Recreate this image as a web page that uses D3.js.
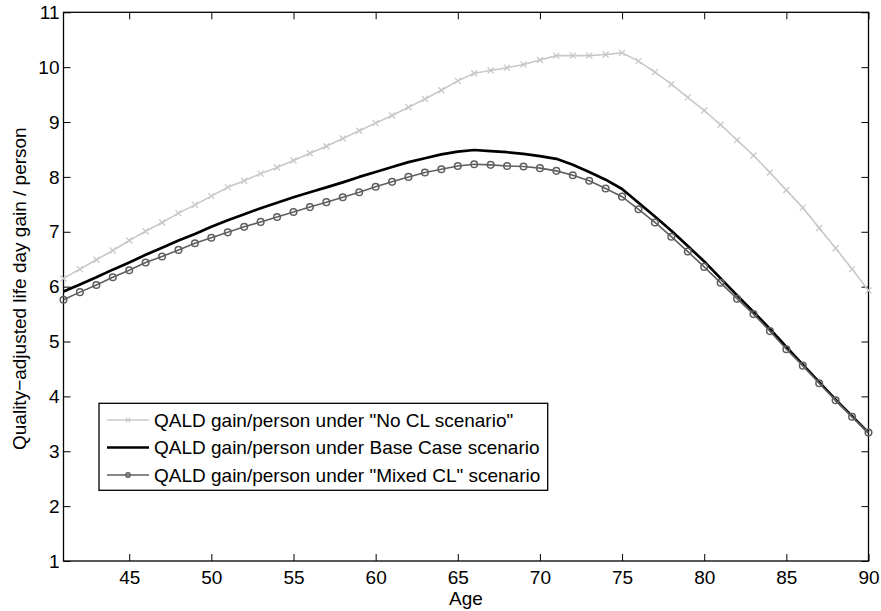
<!DOCTYPE html>
<html>
<head>
<meta charset="utf-8">
<script src="https://cdn.jsdelivr.net/npm/d3@7"></script>
<style>
  html, body { margin: 0; padding: 0; background: #fff; }
  svg { display: block; font-family: "Liberation Sans", Arial, Helvetica, sans-serif; }
</style>
</head>
<body>
<svg id="chart" width="881" height="611"></svg>
<script>
const ages = d3.range(41, 91);
const noCL = [6.15, 6.32, 6.49, 6.66, 6.84, 7.01, 7.17, 7.34, 7.49, 7.65,
  7.81, 7.93, 8.06, 8.17, 8.30, 8.43, 8.56, 8.70, 8.84, 8.98,
  9.12, 9.27, 9.42, 9.58, 9.75, 9.89, 9.94, 9.99, 10.05, 10.13,
  10.21, 10.21, 10.21, 10.23, 10.26, 10.11, 9.91, 9.69, 9.45, 9.21,
  8.95, 8.67, 8.39, 8.08, 7.76, 7.44, 7.07, 6.70, 6.32, 5.93];
const baseCase = [5.91, 6.04, 6.17, 6.31, 6.44, 6.58, 6.71, 6.84, 6.96, 7.09,
  7.21, 7.32, 7.43, 7.53, 7.63, 7.72, 7.81, 7.90, 8.00, 8.09,
  8.18, 8.27, 8.34, 8.41, 8.46, 8.49, 8.47, 8.45, 8.42, 8.38,
  8.33, 8.22, 8.09, 7.95, 7.78, 7.53, 7.28, 7.02, 6.74, 6.46,
  6.15, 5.84, 5.54, 5.23, 4.90, 4.58, 4.26, 3.94, 3.64, 3.34];
const mixedCL = [5.76, 5.90, 6.03, 6.17, 6.30, 6.44, 6.55, 6.67, 6.79, 6.89,
  6.99, 7.09, 7.18, 7.27, 7.36, 7.45, 7.54, 7.63, 7.72, 7.82,
  7.91, 8.00, 8.08, 8.14, 8.20, 8.23, 8.22, 8.20, 8.19, 8.16,
  8.11, 8.03, 7.93, 7.79, 7.64, 7.41, 7.17, 6.91, 6.64, 6.36,
  6.07, 5.78, 5.50, 5.19, 4.86, 4.56, 4.24, 3.93, 3.63, 3.34];
const xTicks = [45, 50, 55, 60, 65, 70, 75, 80, 85, 90];
const yTicks = [1, 2, 3, 4, 5, 6, 7, 8, 9, 10, 11];
const seriesNames = [
  'QALD gain/person under "No CL scenario"',
  'QALD gain/person under Base Case scenario',
  'QALD gain/person under "Mixed CL" scenario'
];
const xLabel = "Age";
const yLabel = "Quality\u2212adjusted life day gain / person";

const svg = d3.select("#chart");
const L = 63.5, R = 868.5, T = 12.3, B = 561;
const x = d3.scaleLinear().domain([41, 90]).range([L, R]);
const y = d3.scaleLinear().domain([1, 11]).range([B, T]);

const clipId = "clipPlot";
svg.append("defs").append("clipPath").attr("id", clipId)
  .append("rect").attr("x", L - 6).attr("y", T).attr("width", R - L + 12).attr("height", B - T);

const tickLen = 7;
const fontSize = 19;
function styleAxis(g) {
  g.select(".domain").remove();
  g.selectAll("line").attr("stroke", "#000").attr("stroke-width", 1);
  g.selectAll("text").attr("font-size", fontSize).attr("fill", "#000")
    .attr("font-family", '"Liberation Sans", Arial, sans-serif');
}
svg.append("g").attr("transform", `translate(0,${B})`)
  .call(d3.axisBottom(x).tickValues(xTicks).tickSize(-tickLen).tickPadding(10).tickFormat(d3.format("d")))
  .call(styleAxis);
svg.append("g").attr("transform", `translate(0,${T})`)
  .call(d3.axisTop(x).tickValues(xTicks).tickSize(-tickLen).tickFormat(""))
  .call(styleAxis);
svg.append("g").attr("transform", `translate(${L},0)`)
  .call(d3.axisLeft(y).tickValues(yTicks).tickSize(-tickLen).tickPadding(4).tickFormat(d3.format("d")))
  .call(styleAxis);
svg.append("g").attr("transform", `translate(${R},0)`)
  .call(d3.axisRight(y).tickValues(yTicks).tickSize(-tickLen).tickFormat(""))
  .call(styleAxis);

svg.append("rect").attr("x", L).attr("y", T).attr("width", R - L).attr("height", B - T)
  .attr("fill", "none").attr("stroke", "#000").attr("stroke-width", 1.3);

const plot = svg.append("g").attr("clip-path", `url(#${clipId})`);
const line = d3.line().x((d, i) => x(ages[i])).y(d => y(d));

const cNo = "#c8c8c8", cBase = "#000", cMix = "#5f5f5f";

plot.append("path").datum(noCL).attr("d", line).attr("fill", "none")
  .attr("stroke", cNo).attr("stroke-width", 1.6);
const xm = 3;
plot.append("g").selectAll("path").data(noCL).join("path")
  .attr("d", (d, i) => {
    const cx = x(ages[i]), cy = y(d);
    return `M${cx - xm},${cy - xm}L${cx + xm},${cy + xm}M${cx - xm},${cy + xm}L${cx + xm},${cy - xm}`;
  })
  .attr("stroke", cNo).attr("stroke-width", 1.3).attr("fill", "none");

plot.append("path").datum(baseCase).attr("d", line).attr("fill", "none")
  .attr("stroke", cBase).attr("stroke-width", 2.7).attr("stroke-linejoin", "round");

plot.append("path").datum(mixedCL).attr("d", line).attr("fill", "none")
  .attr("stroke", cMix).attr("stroke-width", 1.6);
plot.append("g").selectAll("circle").data(mixedCL).join("circle")
  .attr("cx", (d, i) => x(ages[i])).attr("cy", d => y(d)).attr("r", 3.3)
  .attr("fill", "none").attr("stroke", cMix).attr("stroke-width", 1.5);

svg.append("text").attr("x", (L + R) / 2).attr("y", 604.5).attr("text-anchor", "middle")
  .attr("font-size", fontSize).text(xLabel);
svg.append("text").attr("transform", `translate(26,${(T + B) / 2 + 2}) rotate(-90)`)
  .attr("text-anchor", "middle").attr("font-size", fontSize).text(yLabel);

const lg = svg.append("g");
lg.append("rect").attr("x", 99).attr("y", 403.3).attr("width", 448.7).attr("height", 87)
  .attr("fill", "#fff").attr("stroke", "#000").attr("stroke-width", 1.3);
const rows = [420, 447.5, 475];
const styles = [
  { c: cNo, w: 1.6, m: "x" },
  { c: cBase, w: 2.7, m: null },
  { c: cMix, w: 1.6, m: "o" }
];
seriesNames.forEach((name, i) => {
  const yy = rows[i], s = styles[i];
  lg.append("line").attr("x1", 107).attr("x2", 149).attr("y1", yy).attr("y2", yy)
    .attr("stroke", s.c).attr("stroke-width", s.w);
  if (s.m === "x") {
    const m = 2;
    lg.append("path").attr("d", `M${128 - m},${yy - m}L${128 + m},${yy + m}M${128 - m},${yy + m}L${128 + m},${yy - m}`)
      .attr("stroke", s.c).attr("stroke-width", 1.2);
  } else if (s.m === "o") {
    lg.append("circle").attr("cx", 128).attr("cy", yy).attr("r", 2.2)
      .attr("fill", "none").attr("stroke", s.c).attr("stroke-width", 1.4);
  }
  lg.append("text").attr("x", 154).attr("y", yy).attr("dy", "0.36em")
    .attr("font-size", fontSize).text(name);
});
</script>
</body>
</html>
